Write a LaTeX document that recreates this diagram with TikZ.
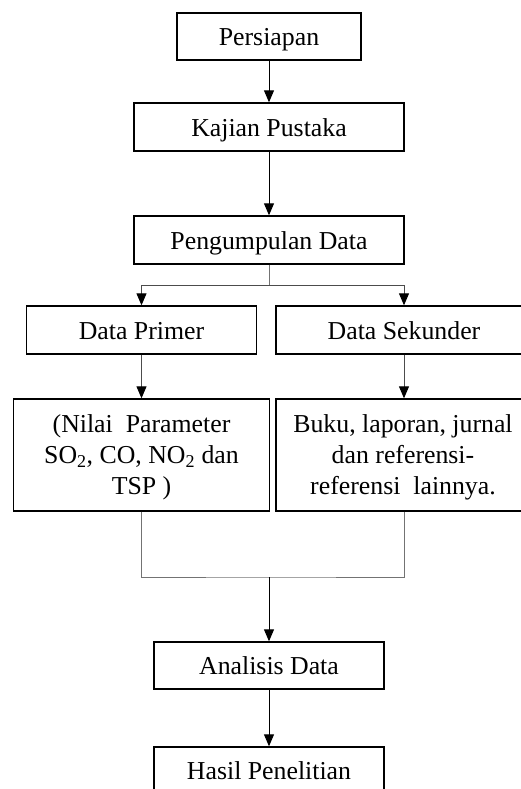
\documentclass[tikz,border=0pt]{standalone}
\usepackage{fontspec}
\setmainfont{Liberation Serif}
\usetikzlibrary{arrows.meta}
\begin{document}
\begin{tikzpicture}[x=1pt,y=-1pt,
  box/.style={draw=black,line width=1.4pt,rectangle,inner sep=0pt,
    font=\fontsize{25.8}{31}\selectfont,text height=18pt,text depth=0pt},
  lbl/.style={inner sep=0pt,align=center,anchor=north,
    font=\fontsize{25.8}{31}\selectfont},
  arr/.style={line width=1pt,-{Triangle[width=10pt,length=12pt]}},
  garr/.style={draw=black!70,line width=1pt,-{Triangle[width=10pt,length=12pt,fill=black,color=black]}},
  gline/.style={draw=black!55,line width=1pt}]
\useasboundingbox (0,0) rectangle (521,789);
\clip (0,0) rectangle (521,789);
\node[box,minimum width=184pt,minimum height=47pt] (persiapan) at (269,36.5) {Persiapan};
\node[box,minimum width=270pt,minimum height=48pt] (kajian) at (269,127) {Kajian Pustaka};
\node[box,minimum width=270pt,minimum height=48pt] (kumpul) at (269,240) {Pengumpulan Data};
\node[box,minimum width=230pt,minimum height=48pt] (primer) at (141.5,330) {Data Primer};
\node[box,minimum width=256pt,minimum height=48pt] (sekunder) at (404,330) {Data Sekunder};
\node[box,minimum width=256pt,minimum height=112pt] (nilai) at (141.5,455) {};
\node[box,minimum width=256pt,minimum height=112pt] (buku) at (404,455) {};
\node[lbl] (nilaitext) at (141.5,411) {\strut(Nilai\ \ Parameter\\SO\textsubscript{2}, CO, NO\textsubscript{2} dan\\TSP )};
\node[lbl] (bukutext) at (403,411) {\strut Buku, laporan, jurnal\\dan referensi-\\referensi\ \ lainnya.};
\node[box,minimum width=230pt,minimum height=47pt] (analisis) at (269,665.5) {Analisis Data};
\node[box,minimum width=230pt,minimum height=47pt] (hasil) at (269,770.5) {Hasil Penelitian};
\coordinate (split) at (269,285);
\coordinate (join) at (269,577);
\draw[arr] (persiapan) -- (kajian);
\draw[arr] (kajian) -- (kumpul);
\draw[gline] (kumpul.south) -- (split);
\draw[garr] (split) -| (primer.north);
\draw[garr] (split) -| (sekunder.north);
\draw[garr] (primer) -- (nilai);
\draw[garr] (sekunder) -- (buku);
\draw[gline] (nilai.south) |- (join) -| (buku.south);
\draw[arr] (join) -- (analisis);
\draw[arr] (analisis) -- (hasil);
\end{tikzpicture}
\end{document}
